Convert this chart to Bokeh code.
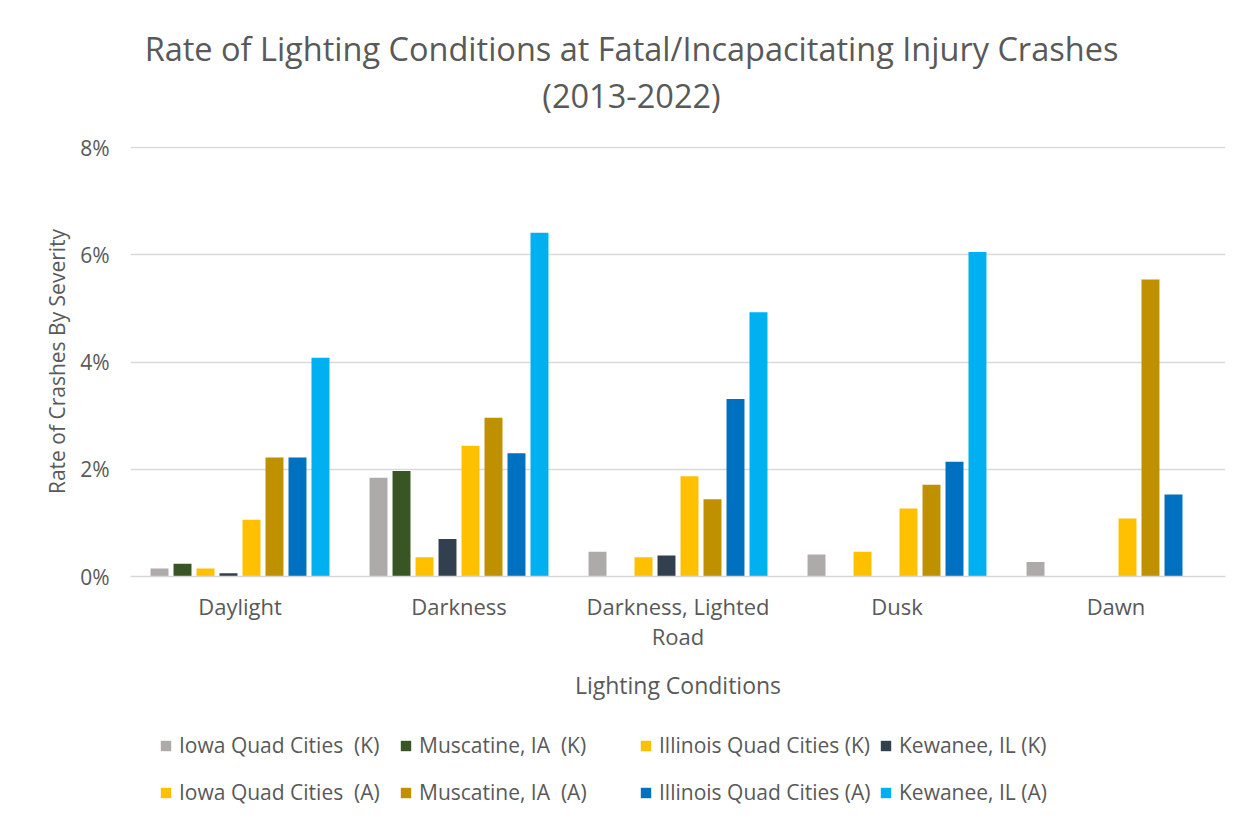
from bokeh.plotting import figure
from bokeh.layouts import column
from bokeh.models import (FactorRange, Legend, LegendItem, Label, NumeralTickFormatter,
                          ColumnDataSource, FixedTicker, Range1d)
from bokeh.transform import dodge
from bokeh.embed import file_html
from bokeh.resources import INLINE

# ---- data ----
categories = ["Daylight", "Darkness", "Darkness, Lighted\nRoad", "Dusk", "Dawn"]
series_names = ["Iowa Quad Cities  (K)", "Muscatine, IA  (K)", "Illinois Quad Cities (K)",
                "Kewanee, IL (K)", "Iowa Quad Cities  (A)", "Muscatine, IA  (A)",
                "Illinois Quad Cities (A)", "Kewanee, IL (A)"]
iowa_k = [0.0015, 0.0184, 0.0046, 0.0041, 0.0027]
musc_k = [0.0024, 0.0197, 0.0, 0.0, 0.0]
ill_k = [0.0015, 0.0036, 0.0036, 0.0046, 0.0]
kew_k = [0.0006, 0.0070, 0.0039, 0.0, 0.0]
iowa_a = [0.0106, 0.0244, 0.0187, 0.0127, 0.0108]
musc_a = [0.0222, 0.0296, 0.0144, 0.0171, 0.0554]
ill_a = [0.0222, 0.0230, 0.0331, 0.0214, 0.0153]
kew_a = [0.0408, 0.0641, 0.0493, 0.0605, 0.0]
series_values = [iowa_k, musc_k, ill_k, kew_k, iowa_a, musc_a, ill_a, kew_a]
colors = ["#AEAAAA", "#375623", "#FFC000", "#323F4F", "#FFC000", "#BF9000", "#0070C0", "#00B0F0"]
y_ticks = [0, 0.02, 0.04, 0.06, 0.08]
title_lines = ["Rate of Lighting Conditions at Fatal/Incapacitating Injury Crashes", "(2013-2022)"]

FONT = "Open Sans"
TXT = "#595959"
GRID = "#D9D9D9"
W = 1245

data = {"cat": categories}
for i, vals in enumerate(series_values):
    data[f"s{i}"] = vals
source = ColumnDataSource(data)
x_range = FactorRange(*categories)


def blank_fig(h, xr):
    f = figure(width=W, height=h, x_range=xr, y_range=Range1d(1, 2),
               output_backend="svg", toolbar_location=None, min_border=0,
               x_axis_type=None, y_axis_type=None)
    f.outline_line_color = None
    f.xgrid.visible = False
    f.ygrid.visible = False
    return f


# ---- title (frames of the stacked figures are aligned: x measured from x=130) ----
pt = blank_fig(130, x_range)
for txt, yy in zip(title_lines, [82, 35]):
    pt.add_layout(Label(x=501, y=yy, x_units="screen", y_units="screen", text=txt,
                        text_align="center", text_baseline="middle",
                        text_font=FONT, text_font_size="32.5px", text_color=TXT))

# ---- main chart ----
p = figure(width=W, height=590, x_range=x_range, y_range=(0, 0.0802),
           output_backend="svg", toolbar_location=None,
           min_border_left=130, min_border_right=20, min_border_top=16, min_border_bottom=144)
p.outline_line_color = None

step = 0.105
bar_w = 0.082
for i, name in enumerate(series_names):
    off = (i - 3.5) * step
    p.vbar(x=dodge("cat", off, range=x_range), top=f"s{i}", width=bar_w,
           source=source, fill_color=colors[i], line_color=None)

p.yaxis.ticker = FixedTicker(ticks=y_ticks)
p.yaxis.formatter = NumeralTickFormatter(format="0%")
p.yaxis.axis_line_color = None
p.yaxis.major_tick_line_color = None
p.yaxis.minor_tick_line_color = None
p.yaxis.major_label_standoff = 15
p.yaxis.major_label_text_font = FONT
p.yaxis.major_label_text_font_size = "21px"
p.yaxis.major_label_text_color = TXT
p.yaxis.axis_label = "Rate of Crashes By Severity"
p.yaxis.axis_label_text_font = FONT
p.yaxis.axis_label_text_font_size = "21px"
p.yaxis.axis_label_text_font_style = "normal"
p.yaxis.axis_label_text_color = TXT
p.yaxis.axis_label_standoff = 6

p.xaxis.axis_line_color = GRID
p.xaxis.axis_line_width = 1.5
p.xaxis.major_tick_line_color = None
p.xaxis.minor_tick_line_color = None
p.xaxis.major_label_standoff = 8
p.xaxis.major_label_text_font = FONT
p.xaxis.major_label_text_font_size = "22px"
p.xaxis.major_label_text_color = TXT
p.xaxis.major_label_text_line_height = 1.0
p.xaxis.axis_label = "Lighting Conditions"
p.xaxis.axis_label_text_font = FONT
p.xaxis.axis_label_text_font_size = "23px"
p.xaxis.axis_label_text_font_style = "normal"
p.xaxis.axis_label_text_color = TXT
p.xaxis.axis_label_standoff = 15

p.xgrid.grid_line_color = None
p.ygrid.grid_line_color = GRID
p.ygrid.grid_line_width = 1.5

# ---- legend (two rows of four columns); swatch bars fall outside this strip's range ----
pl = blank_fig(98, x_range)
swatches = []
for i in range(8):
    off = (i - 3.5) * step
    swatches.append(pl.vbar(x=dodge("cat", off, range=x_range), top=f"s{i}", width=bar_w,
                            source=source, fill_color=colors[i], line_color=None))
for row, vy in enumerate([59, 12]):
    items = [LegendItem(label=series_names[row * 4 + k], renderers=[swatches[row * 4 + k]], index=0)
             for k in range(4)]
    leg = Legend(items=items, orientation="horizontal", location=(29, vy),
                 padding=0, margin=0, spacing=0, border_line_color=None,
                 background_fill_alpha=0, glyph_width=13, glyph_height=13,
                 label_standoff=7, label_width=220, label_height=24,
                 label_text_font=FONT, label_text_font_size="21px",
                 label_text_color=TXT)
    pl.add_layout(leg, "center")

layout = column(pt, p, pl, spacing=0)
open("out.html", "w").write(file_html(layout, INLINE))
